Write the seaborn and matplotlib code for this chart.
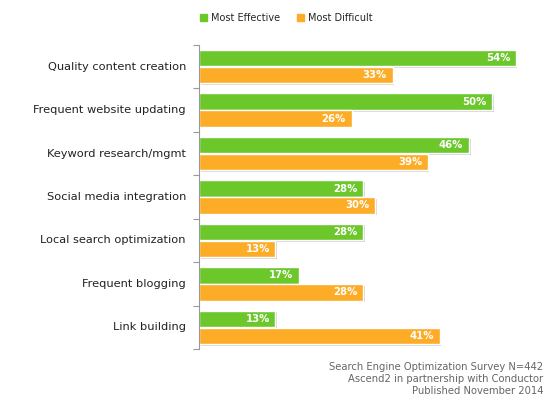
import pandas as pd
import matplotlib.pyplot as plt
import matplotlib.patheffects as pe
import seaborn as sns

categories = ['Quality content creation', 'Frequent website updating', 'Keyword research/mgmt',
              'Social media integration', 'Local search optimization', 'Frequent blogging',
              'Link building']
most_effective = [54, 50, 46, 28, 28, 17, 13]
most_difficult = [33, 26, 39, 30, 13, 28, 41]
series = ['Most Effective', 'Most Difficult']
colors = ['#6cc72b', '#fdac27']
source_lines = ['Search Engine Optimization Survey N=442',
                'Ascend2 in partnership with Conductor',
                'Published November 2014']

df = pd.DataFrame({
    'category': categories * 2,
    'value': most_effective + most_difficult,
    'series': [series[0]] * len(categories) + [series[1]] * len(categories),
})

sns.set_theme(style='white')
plt.rcParams['font.family'] = ['DejaVu Sans']

fig = plt.figure(figsize=(5.58, 4.05), dpi=100)
ax = fig.add_axes([199 / 558, 1 - 349 / 405, 352 / 558, 304 / 405])

sns.barplot(data=df, y='category', x='value', hue='series', orient='h',
            palette=colors, saturation=1, width=0.78, gap=0.03, ax=ax, legend=False)

# soft drop shadow like the original
for p in ax.patches:
    p.set_path_effects([pe.SimplePatchShadow(offset=(1.2, -1.2), shadow_rgbFace='#888888',
                                             alpha=0.35), pe.Normal()])

# value labels inside bar ends
for cont in ax.containers:
    labels = ax.bar_label(cont, labels=[f'{int(v)}%' for v in cont.datavalues],
                          padding=-4, color='white', fontsize=7.3, fontweight='bold')
    for lbl in labels:
        lbl.set_ha('right')

ax.set_xlim(0, 60)
ax.set_ylim(len(categories) - 0.5, -0.5)
ax.set_xlabel('')
ax.set_ylabel('')
ax.set_xticks([])
ax.set_yticks([i - 0.5 for i in range(len(categories) + 1)])
ax.set_yticklabels([])
ax.tick_params(axis='y', length=4, width=0.8, color='#999999', left=True)
for i, c in enumerate(categories):
    ax.annotate(c, xy=(0, i), xycoords=ax.get_yaxis_transform(),
                xytext=(-13, 0), textcoords='offset pixels', ha='right',
                va='center', fontsize=8.2, color='#222222')
for s in ['top', 'right', 'bottom']:
    ax.spines[s].set_visible(False)
ax.spines['left'].set_color('#999999')
ax.spines['left'].set_linewidth(0.8)

# legend
handles = [plt.Rectangle((0, 0), 1, 1, color=c) for c in colors]
fig.legend(handles, series, loc='center', bbox_to_anchor=(0.513, 1 - 18 / 405),
           ncol=2, frameon=False, fontsize=7, handlelength=0.7, handleheight=0.7,
           handletextpad=0.4, columnspacing=1.8)

fig.text(543 / 558, 1 - 379 / 405, '\n'.join(source_lines), ha='right', va='center',
         fontsize=7.2, color='#666666', linespacing=1.3)

fig.savefig('out.png', dpi=100)
